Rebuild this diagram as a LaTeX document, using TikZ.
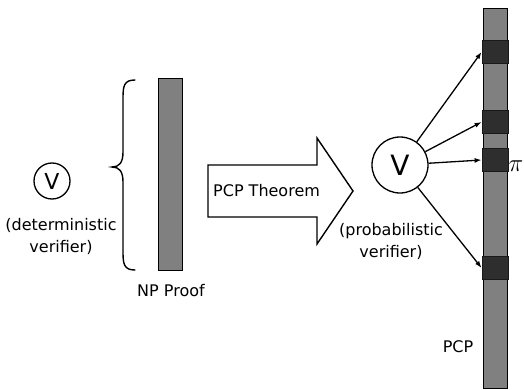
\documentclass[tikz,border=0pt]{standalone}
\usepackage{fontspec}
\setmainfont{DejaVu Sans}
\usetikzlibrary{arrows.meta}
\definecolor{barGray}{HTML}{808080}
\definecolor{cellDark}{HTML}{2E2E2E}
\begin{document}
\begin{tikzpicture}[x=1pt,y=-1pt,
  lbl/.style={font=\fontsize{16}{22}\selectfont, inner sep=0pt, align=center},
  vcirc/.style={circle, draw=black, line width=1.3pt, fill=white, inner sep=0pt},
  proofbar/.style={draw=black, line width=0.8pt, fill=barGray, inner sep=0pt, minimum width=24pt},
  cell/.style={draw=black!90, line width=0.8pt, fill=cellDark, inner sep=0pt, minimum width=26pt, minimum height=23pt},
  query/.style={line width=1.3pt, -{Latex[length=7pt,width=5pt]}},
  bigarrow/.style={draw=black, line width=1.4pt, fill=white, line join=miter}
]
\useasboundingbox (0,0) rectangle (524,390);

% left: deterministic verifier
\node[vcirc, minimum size=36pt, font=\fontsize{22}{22}\selectfont] (vl) at (52,181) {V};
\node[lbl] (detl) at (61,236) {(deterministic\\verifier)};

% brace
\draw[line width=1.4pt, line cap=round] (135,80) .. controls (124,80) and (123,86) .. (123,98)
  -- (123,152) .. controls (123,163) and (119,167) .. (112,167)
  .. controls (119,167) and (123,171) .. (123,182)
  -- (123,252) .. controls (123,264) and (124,270) .. (135,270);

% NP proof bar
\node[proofbar, minimum height=192pt] (np) at (170,174) {};
\node[lbl] (npl) at (171,291) {NP Proof};

% big arrow
\draw[bigarrow] (208,165) -- (317,165) -- (317,138) -- (353,191) -- (317,244) -- (317,217) -- (208,217) -- cycle;
\node[lbl, anchor=west] (thm) at (213,191) {PCP Theorem};

% PCP bar and queried cells
\node[proofbar, minimum height=380pt] (pcp) at (495,198) {};
\node[cell] (b1) at (495,52) {};
\node[cell] (b2) at (495,122) {};
\node[cell] (b3) at (495,160) {};
\node[cell] (b4) at (495,268) {};
\node[inner sep=0pt] (pi) at (516,166) {\fontsize{27}{27}\selectfont$\pi$};
\node[lbl] (pcpl) at (458,347) {PCP};

% probabilistic verifier
\node[vcirc, minimum size=56pt, font=\fontsize{28}{28}\selectfont] (vr) at (400,165) {V};
\node[lbl] (prob) at (391,241) {(probabilistic\\verifier)};

% queries
\draw[query] (vr) -- (b1.west);
\draw[query] (vr) -- (b2.west);
\draw[query] (vr) -- (b3.west);
\draw[query] (vr) -- (b4.west);
\end{tikzpicture}
\end{document}
